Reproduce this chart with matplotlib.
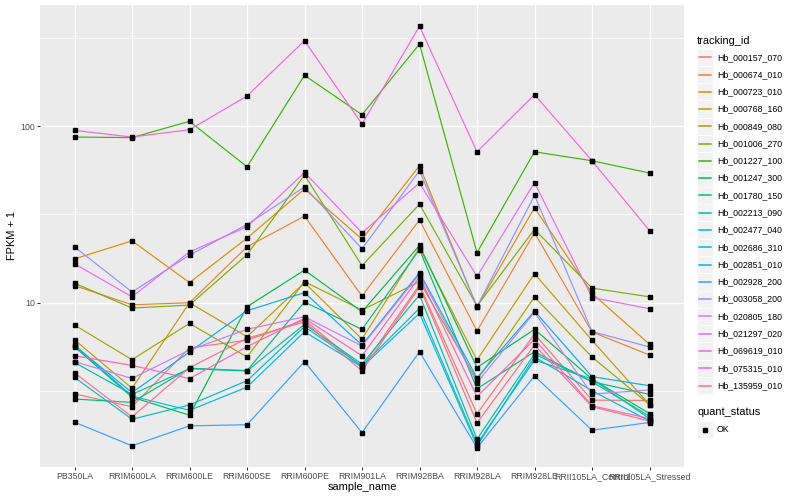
import matplotlib
matplotlib.use("Agg")
import matplotlib.pyplot as plt
from matplotlib.lines import Line2D
from matplotlib.patches import Rectangle
from matplotlib.ticker import FixedLocator, NullFormatter

plt.rcParams['font.family'] = ['Liberation Sans', 'DejaVu Sans']

# sample order on the x axis
samples = ['PB350LA', 'RRIM600LA', 'RRIM600LE', 'RRIM600SE', 'RRIM600PE',
           'RRIM901LA', 'RRIM928BA', 'RRIM928LA', 'RRIM928LE',
           'RRII105LA_Control', 'RRII105LA_Stressed']

tracking_ids = ['Hb_000157_070', 'Hb_000674_010', 'Hb_000723_010', 'Hb_000768_160',
                'Hb_000849_080', 'Hb_001006_270', 'Hb_001227_100', 'Hb_001247_300',
                'Hb_001780_150', 'Hb_002213_090', 'Hb_002477_040', 'Hb_002686_310',
                'Hb_002851_010', 'Hb_002928_200', 'Hb_003058_200', 'Hb_020805_180',
                'Hb_021297_020', 'Hb_069619_010', 'Hb_075315_010', 'Hb_135959_010']

# ggplot default hue palette for 20 levels
colors = ['#F8766D', '#EA8331', '#D89000', '#C09B00', '#A3A500', '#7CAE00', '#39B600',
          '#00BB4E', '#00BF7D', '#00C1A3', '#00BFC4', '#00BAE0', '#00B0F6', '#35A2FF',
          '#9590FF', '#C77CFF', '#E76BF3', '#FA62DB', '#FF62BC', '#FF6C91']

# FPKM + 1, one list per gene, in sample order
hb_000157_070 = [3.05, 2.58, 5.56, 6.13, 7.98, 4.31, 12.6, 2.35, 6.65, 2.81, 2.80]
hb_000674_010 = [12.5, 9.74, 10.0, 20.7, 30.9, 10.9, 29.4, 6.92, 24.9, 6.83, 5.06]
hb_000723_010 = [17.7, 22.4, 13.0, 23.2, 44.0, 22.9, 59.6, 9.46, 34.5, 11.3, 5.82]
hb_000768_160 = [6.17, 3.28, 10.0, 6.42, 12.98, 6.23, 20.5, 4.74, 14.6, 6.13, 2.65]
hb_000849_080 = [7.48, 4.76, 7.64, 4.93, 13.15, 9.09, 13.15, 3.65, 10.77, 4.93, 2.65]
hb_001006_270 = [12.9, 9.33, 9.70, 18.7, 52.8, 16.2, 36.1, 9.58, 26.0, 12.1, 10.8]
hb_001227_100 = [86.6, 86.0, 106.3, 58.8, 193.6, 115.8, 291.0, 19.2, 71.5, 63.6, 54.2]
hb_001247_300 = [5.64, 2.92, 2.31, 9.49, 15.3, 8.89, 21.1, 4.30, 7.07, 3.70, 2.36]
hb_001780_150 = [2.85, 2.73, 4.26, 4.13, 10.09, 7.07, 20.0, 3.26, 5.28, 3.57, 3.03]
hb_002213_090 = [4.59, 3.03, 4.23, 4.11, 7.55, 4.50, 11.06, 1.69, 5.13, 3.57, 2.28]
hb_002477_040 = [3.78, 2.19, 2.64, 3.62, 7.31, 4.40, 9.30, 1.59, 4.74, 3.70, 2.21]
hb_002686_310 = [5.76, 2.96, 2.46, 3.33, 6.85, 4.33, 8.71, 1.55, 4.93, 3.18, 2.14]
hb_002851_010 = [5.73, 3.10, 5.26, 9.01, 11.4, 5.76, 14.8, 3.76, 8.97, 3.82, 3.39]
hb_002928_200 = [2.11, 1.55, 2.01, 2.04, 4.64, 1.84, 5.28, 1.51, 3.85, 1.90, 2.10]
hb_003058_200 = [20.7, 11.5, 18.6, 27.7, 45.2, 20.2, 55.8, 9.52, 40.5, 6.87, 5.62]
hb_020805_180 = [4.64, 3.73, 5.40, 7.07, 8.33, 5.69, 14.5, 3.53, 8.82, 3.04, 3.21]
hb_021297_020 = [16.6, 10.8, 19.4, 26.9, 54.6, 24.9, 47.6, 14.1, 47.8, 10.7, 9.25]
hb_069619_010 = [94.5, 86.6, 95.3, 147.8, 304.0, 102.6, 367.0, 71.5, 150.4, 63.6, 25.6]
hb_075315_010 = [5.01, 4.42, 3.72, 5.64, 8.16, 5.01, 14.0, 2.94, 6.21, 2.61, 2.21]
hb_135959_010 = [4.02, 2.26, 4.29, 6.29, 7.78, 4.11, 12.3, 2.09, 5.76, 2.58, 2.14]

series = [hb_000157_070, hb_000674_010, hb_000723_010, hb_000768_160, hb_000849_080,
          hb_001006_270, hb_001227_100, hb_001247_300, hb_001780_150, hb_002213_090,
          hb_002477_040, hb_002686_310, hb_002851_010, hb_002928_200, hb_003058_200,
          hb_020805_180, hb_021297_020, hb_069619_010, hb_075315_010, hb_135959_010]

W, H = 800, 500
fig = plt.figure(figsize=(8, 5), dpi=100)
ax = fig.add_axes([40 / W, 1 - 467 / H, 644 / W, 462 / H])
ax.set_facecolor('#EBEBEB')

x = list(range(len(samples)))
for vals, col in zip(series, colors):
    ax.plot(x, vals, color=col, lw=0.85, zorder=3)
for vals in series:
    ax.plot(x, vals, ls='none', marker='s', ms=2.4, color='black', zorder=4)

ax.set_yscale('log')
ax.set_ylim(1.176, 484)
ax.set_xlim(-0.6, len(samples) - 0.4)

ax.set_xticks(x)
ax.set_xticklabels(samples)
ax.yaxis.set_major_locator(FixedLocator([10, 100]))
ax.set_yticklabels(['10', '100'])
ax.yaxis.set_minor_locator(FixedLocator([10 ** 0.5, 10 ** 1.5, 10 ** 2.5]))
ax.yaxis.set_minor_formatter(NullFormatter())

ax.grid(True, which='major', color='white', lw=1.0, zorder=0)
ax.grid(True, which='minor', axis='y', color='white', lw=0.5, zorder=0)
ax.set_axisbelow(True)
for s in ax.spines.values():
    s.set_visible(False)
ax.tick_params(which='major', length=2, width=0.75, color='#333333',
               labelsize=6.3, labelcolor='#4D4D4D', pad=1.6)
ax.tick_params(which='minor', length=0)

fig.text(12.5 / W, 1 - 236 / H, 'FPKM + 1', rotation=90, ha='center', va='center', fontsize=7.9)
fig.text(362 / W, 1 - 487 / H, 'sample_name', ha='center', va='center', fontsize=7.9)


def px(xp, yp):
    return xp / W, 1 - yp / H


# legend: tracking_id
fig.text(*px(697, 40.7), 'tracking_id', ha='left', va='center', fontsize=7.9)
key_h = 17.28
for i, (tid, col) in enumerate(zip(tracking_ids, colors)):
    top = 48.6 + i * key_h
    cy = top + key_h / 2
    fig.patches.append(Rectangle(px(696.5, top + key_h), 16.5 / W, key_h / H,
                                 transform=fig.transFigure, facecolor='#F2F2F2',
                                 edgecolor='white', lw=0.7))
    fig.lines.append(Line2D([698.5 / W, 711 / W], [1 - cy / H, 1 - cy / H],
                            transform=fig.transFigure, color=col, lw=1.1))
    fig.text(*px(717, cy), tid, ha='left', va='center', fontsize=6.3)

# legend: quant_status
fig.text(*px(697, 412.3), 'quant_status', ha='left', va='center', fontsize=7.9)
fig.patches.append(Rectangle(px(696.5, 438), 16.5 / W, key_h / H,
                             transform=fig.transFigure, facecolor='#F2F2F2',
                             edgecolor='white', lw=0.7))
fig.lines.append(Line2D([705 / W], [1 - 429.5 / H], transform=fig.transFigure,
                        ls='none', marker='s', ms=2.4, color='black'))
fig.text(*px(717, 429.5), 'OK', ha='left', va='center', fontsize=6.3)

fig.savefig('out.png', dpi=100)
